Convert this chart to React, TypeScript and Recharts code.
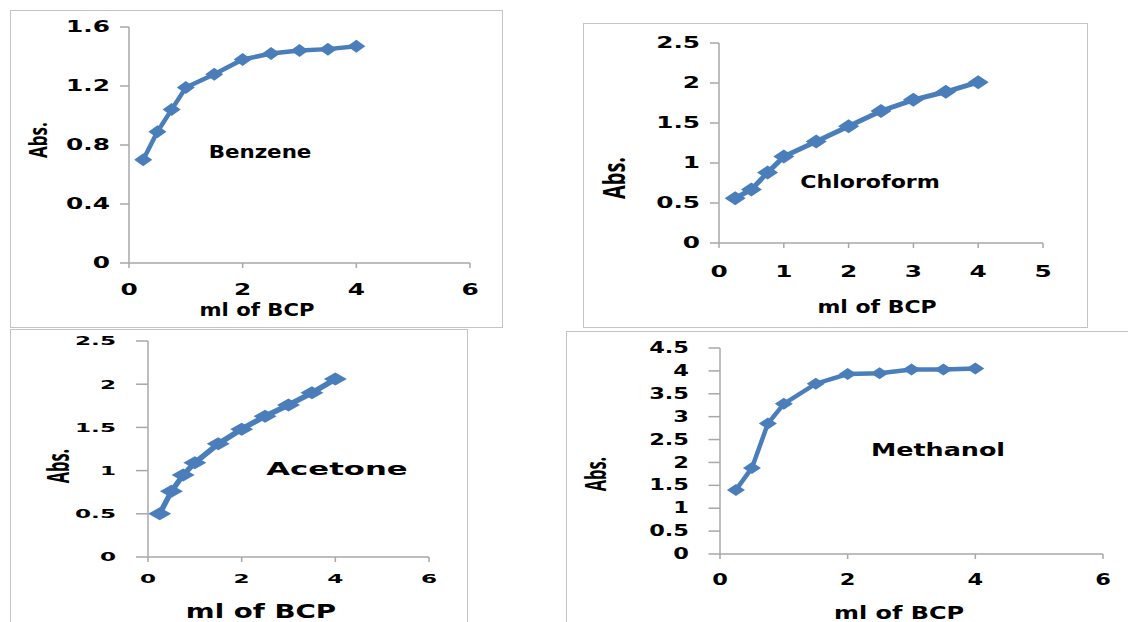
import { LineChart, Line, XAxis, YAxis } from 'recharts';

// ml of BCP added (shared by all four plots)
const mlBCP = [0.25, 0.5, 0.75, 1, 1.5, 2, 2.5, 3, 3.5, 4];

const benzeneAbs = [0.7, 0.89, 1.04, 1.19, 1.28, 1.38, 1.42, 1.44, 1.45, 1.47];
const chloroformAbs = [0.56, 0.67, 0.88, 1.08, 1.27, 1.46, 1.65, 1.79, 1.89, 2.01];
const acetoneAbs = [0.5, 0.76, 0.95, 1.09, 1.31, 1.48, 1.63, 1.76, 1.9, 2.06];
const methanolAbs = [1.4, 1.88, 2.85, 3.28, 3.72, 3.93, 3.95, 4.03, 4.03, 4.05];

const xTicks6 = [0, 2, 4, 6];
const xTicks5 = [0, 1, 2, 3, 4, 5];
const yTicksBenzene = [0, 0.4, 0.8, 1.2, 1.6];
const yTicks25 = [0, 0.5, 1, 1.5, 2, 2.5];
const yTicks45 = [0, 0.5, 1, 1.5, 2, 2.5, 3, 3.5, 4, 4.5];

const BLUE = '#4a7ebb';
const AXIS = '#a8a8a8';
const FONT = '"DejaVu Sans", "Open Sans", sans-serif';
const ABS_FONT = '"Open Sans", "DejaVu Sans", sans-serif';
const W = 1128;
const H = 622;
const YW = 60;
const XH = 30;

function Txt({ text, x, y, size, sx, rotate, font = FONT }: { text: string; x: number; y: number; size: number; sx: number; rotate?: boolean; font?: string }) {
  return (
    <div
      style={{
        position: 'absolute',
        left: x,
        top: y,
        fontFamily: font,
        fontWeight: 700,
        fontSize: size,
        lineHeight: 1,
        whiteSpace: 'nowrap',
        color: '#000',
        transform: `translate(-50%, -50%) scaleX(${sx})${rotate ? ' rotate(-90deg)' : ''}`,
      }}
    >
      {text}
    </div>
  );
}

const yTick = (fs: number, sx: number) => (props: any) => {
  const { x, y, payload } = props;
  return (
    <text
      transform={`translate(${x},${y}) scale(${sx},1)`}
      textAnchor="end"
      dominantBaseline="central"
      fontFamily={FONT}
      fontWeight={700}
      fontSize={fs}
      fill="#000"
    >
      {String(payload.value)}
    </text>
  );
};

const xTick = (fs: number, sx: number) => (props: any) => {
  const { x, y, payload } = props;
  return (
    <text
      transform={`translate(${x},${y}) scale(${sx},1)`}
      textAnchor="middle"
      dominantBaseline="central"
      fontFamily={FONT}
      fontWeight={700}
      fontSize={fs}
      fill="#000"
    >
      {String(payload.value)}
    </text>
  );
};

const diamond = (hw: number, hh: number) => (props: any) => {
  const { cx, cy, index } = props;
  return (
    <polygon
      key={`d-${index}`}
      points={`${cx - hw},${cy} ${cx},${cy - hh} ${cx + hw},${cy} ${cx},${cy + hh}`}
      fill={BLUE}
    />
  );
};

type PanelProps = {
  values: number[];
  plot: { left: number; right: number; top: number; bottom: number };
  xTicks: number[];
  yTicks: number[];
  yTickSize: number;
  yTickMargin: number;
  xTickMargin: number;
  tickFs: number;
  tickSx: number;
  marker: [number, number];
  lineWidth: number;
};

function Panel({ values, plot, xTicks, yTicks, yTickSize, yTickMargin, xTickMargin, tickFs, tickSx, marker, lineWidth }: PanelProps) {
  const data = mlBCP.map((x, i) => ({ x, y: values[i] }));
  return (
    <div style={{ position: 'absolute', left: 0, top: 0 }}>
      <LineChart
        width={W}
        height={H}
        data={data}
        margin={{ top: plot.top, left: plot.left - YW, right: W - plot.right, bottom: H - plot.bottom - XH }}
      >
        <XAxis
          type="number"
          dataKey="x"
          domain={[xTicks[0], xTicks[xTicks.length - 1]]}
          ticks={xTicks}
          interval={0}
          height={XH}
          tickSize={5}
          tickMargin={xTickMargin}
          axisLine={{ stroke: AXIS, strokeWidth: 1.5 }}
          tickLine={{ stroke: AXIS, strokeWidth: 1.5 }}
          tick={xTick(tickFs, tickSx)}
        />
        <YAxis
          type="number"
          dataKey="y"
          domain={[yTicks[0], yTicks[yTicks.length - 1]]}
          ticks={yTicks}
          interval={0}
          width={YW}
          tickSize={yTickSize}
          tickMargin={yTickMargin}
          axisLine={{ stroke: AXIS, strokeWidth: 1.5 }}
          tickLine={{ stroke: AXIS, strokeWidth: 1.5 }}
          tick={yTick(tickFs, tickSx)}
        />
        <Line
          type="linear"
          dataKey="y"
          stroke={BLUE}
          strokeWidth={lineWidth}
          dot={diamond(marker[0], marker[1])}
          activeDot={false}
          isAnimationActive={false}
        />
      </LineChart>
    </div>
  );
}

function Frame({ l, t, r, b }: { l: number; t: number; r: number; b: number }) {
  return (
    <div
      style={{
        position: 'absolute',
        left: l,
        top: t,
        width: r - l,
        height: b - t,
        border: '1.5px solid #c4c4c4',
        boxSizing: 'border-box',
      }}
    />
  );
}

export default function App() {
  return (
    <div style={{ position: 'absolute', left: 0, top: 0, width: W, height: H, overflow: 'hidden', background: '#fff' }}>
      <Frame l={10} t={10} r={503} b={328} />
      <Frame l={583} t={23} r={1088} b={328} />
      <Frame l={10} t={329} r={468} b={660} />
      <Frame l={566} t={331} r={1160} b={660} />

      <Panel
        values={benzeneAbs}
        plot={{ left: 129, right: 470, top: 27, bottom: 263 }}
        xTicks={xTicks6}
        yTicks={yTicksBenzene}
        yTickSize={9}
        yTickMargin={10}
        xTickMargin={22}
        tickFs={16}
        tickSx={1.55}
        marker={[9, 6.5]}
        lineWidth={4.5}
      />
      <Panel
        values={chloroformAbs}
        plot={{ left: 719, right: 1043, top: 43, bottom: 243 }}
        xTicks={xTicks5}
        yTicks={yTicks25}
        yTickSize={9}
        yTickMargin={10}
        xTickMargin={24}
        tickFs={15}
        tickSx={1.65}
        marker={[10.5, 7]}
        lineWidth={5}
      />
      <Panel
        values={acetoneAbs}
        plot={{ left: 148, right: 429, top: 341, bottom: 557 }}
        xTicks={xTicks6}
        yTicks={yTicks25}
        yTickSize={12}
        yTickMargin={20}
        xTickMargin={17}
        tickFs={12.5}
        tickSx={1.85}
        marker={[11.5, 6.5]}
        lineWidth={5.5}
      />
      <Panel
        values={methanolAbs}
        plot={{ left: 720, right: 1103, top: 348, bottom: 554 }}
        xTicks={xTicks6}
        yTicks={yTicks45}
        yTickSize={11.5}
        yTickMargin={19.5}
        xTickMargin={21}
        tickFs={15}
        tickSx={1.5}
        marker={[9, 6]}
        lineWidth={4.5}
      />

      <Txt text="Abs." x={37} y={140} size={17} sx={1.5} rotate font={ABS_FONT} />
      <Txt text="ml of BCP" x={257} y={310} size={17.8} sx={1.19} />
      <Txt text="Benzene" x={260} y={153} size={17.4} sx={1.23} />

      <Txt text="Abs." x={614} y={178} size={20} sx={1.5} rotate font={ABS_FONT} />
      <Txt text="ml of BCP" x={877} y={306.5} size={18.3} sx={1.2} />
      <Txt text="Chloroform" x={870} y={181.7} size={18.3} sx={1.21} />

      <Txt text="Abs." x={58} y={466} size={16.4} sx={1.87} rotate font={ABS_FONT} />
      <Txt text="ml of BCP" x={261} y={611} size={20.2} sx={1.37} />
      <Txt text="Acetone" x={337} y={469} size={18.3} sx={1.68} />

      <Txt text="Abs." x={596} y={474} size={16.4} sx={1.76} rotate font={ABS_FONT} />
      <Txt text="ml of BCP" x={898.6} y={612.5} size={18.3} sx={1.31} />
      <Txt text="Methanol" x={938} y={450} size={18.3} sx={1.39} />
    </div>
  );
}
